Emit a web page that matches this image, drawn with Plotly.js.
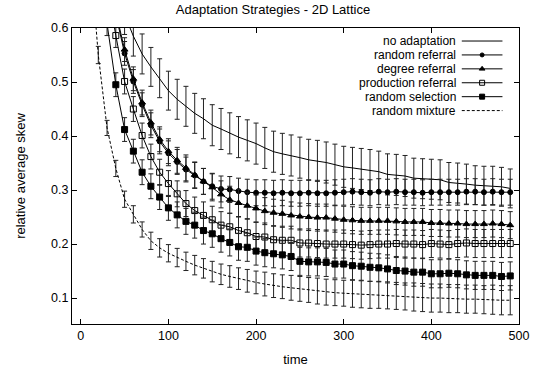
<!DOCTYPE html>
<html>
<head>
<meta charset="utf-8">
<script src="https://cdn.plot.ly/plotly-3.0.1.min.js"></script>
<style>html,body{margin:0;padding:0;background:#fff;}#chart{width:546px;height:368px;}</style>
</head>
<body>
<div id="chart"></div>
<script>
const time = [10,20,30,40,50,60,70,80,90,100,110,120,130,140,150,160,170,180,190,200,210,220,230,240,250,260,270,280,290,300,310,320,330,340,350,360,370,380,390,400,410,420,430,440,450,460,470,480,490];

const seriesNames = ["no adaptation","random referral","degree referral","production referral","random selection","random mixture"];

const noAdapt = [0.95,0.84,0.75,0.68,0.625,0.585,0.552,0.528,0.507,0.484,0.468,0.455,0.442,0.432,0.420,0.413,0.405,0.398,0.392,0.386,0.378,0.371,0.367,0.364,0.360,0.356,0.354,0.351,0.347,0.343,0.341,0.339,0.337,0.334,0.329,0.328,0.326,0.322,0.321,0.320,0.319,0.314,0.313,0.311,0.309,0.308,0.308,0.306,0.303];
const noAdaptErr = [0.035,0.036,0.036,0.037,0.037,0.037,0.037,0.036,0.036,0.036,0.037,0.037,0.037,0.037,0.038,0.038,0.038,0.038,0.038,0.038,0.038,0.038,0.038,0.038,0.038,0.038,0.038,0.038,0.038,0.038,0.038,0.038,0.038,0.038,0.038,0.038,0.038,0.037,0.037,0.037,0.037,0.037,0.037,0.037,0.036,0.036,0.036,0.036,0.036];

const randRef = [1.0,0.85,0.72,0.625,0.553,0.501,0.458,0.420,0.390,0.368,0.352,0.338,0.327,0.316,0.307,0.302,0.301,0.298,0.296,0.295,0.295,0.294,0.295,0.294,0.294,0.295,0.294,0.294,0.295,0.296,0.297,0.296,0.295,0.297,0.296,0.297,0.296,0.296,0.295,0.296,0.296,0.296,0.296,0.297,0.297,0.296,0.297,0.296,0.296];
const randRefErr = [0.022,0.022,0.022,0.022,0.022,0.022,0.022,0.023,0.023,0.023,0.023,0.023,0.024,0.024,0.024,0.024,0.024,0.024,0.024,0.024,0.024,0.024,0.024,0.024,0.024,0.024,0.024,0.024,0.024,0.024,0.024,0.024,0.024,0.024,0.024,0.024,0.024,0.024,0.024,0.024,0.024,0.024,0.024,0.024,0.024,0.024,0.024,0.024,0.024];

const degRef = [1.0,0.86,0.73,0.63,0.56,0.506,0.462,0.425,0.394,0.372,0.355,0.341,0.328,0.316,0.305,0.292,0.282,0.276,0.271,0.266,0.261,0.258,0.256,0.253,0.251,0.250,0.249,0.249,0.247,0.245,0.244,0.243,0.243,0.243,0.243,0.242,0.241,0.241,0.241,0.239,0.239,0.238,0.238,0.237,0.237,0.237,0.238,0.237,0.235];
const degRefErr = [0.022,0.022,0.022,0.022,0.022,0.022,0.023,0.023,0.023,0.023,0.024,0.024,0.024,0.024,0.025,0.025,0.025,0.025,0.025,0.025,0.025,0.025,0.025,0.025,0.025,0.025,0.025,0.025,0.025,0.025,0.025,0.025,0.025,0.025,0.025,0.025,0.025,0.025,0.025,0.025,0.025,0.025,0.025,0.025,0.025,0.025,0.025,0.025,0.025];

const prodRef = [0.95,0.80,0.68,0.586,0.501,0.450,0.401,0.362,0.333,0.312,0.293,0.275,0.262,0.253,0.245,0.235,0.232,0.225,0.221,0.214,0.213,0.208,0.207,0.207,0.202,0.202,0.201,0.200,0.200,0.200,0.199,0.198,0.199,0.200,0.200,0.201,0.200,0.200,0.199,0.201,0.200,0.199,0.201,0.202,0.201,0.201,0.201,0.201,0.201];
const prodRefErr = [0.022,0.022,0.022,0.022,0.023,0.023,0.023,0.023,0.024,0.024,0.024,0.024,0.025,0.025,0.025,0.025,0.025,0.025,0.026,0.026,0.026,0.026,0.026,0.026,0.026,0.026,0.026,0.026,0.026,0.026,0.026,0.026,0.026,0.026,0.026,0.026,0.026,0.026,0.026,0.026,0.026,0.026,0.026,0.026,0.026,0.026,0.026,0.026,0.026];

const randSel = [0.85,0.70,0.608,0.495,0.412,0.372,0.333,0.307,0.287,0.267,0.254,0.242,0.235,0.225,0.219,0.210,0.203,0.195,0.194,0.187,0.184,0.182,0.180,0.177,0.168,0.167,0.167,0.166,0.163,0.163,0.160,0.159,0.157,0.156,0.154,0.151,0.150,0.148,0.148,0.145,0.145,0.146,0.145,0.143,0.142,0.142,0.142,0.140,0.141];
const randSelErr = [0.022,0.022,0.022,0.022,0.022,0.022,0.023,0.023,0.023,0.023,0.024,0.024,0.024,0.025,0.025,0.025,0.025,0.025,0.026,0.026,0.026,0.026,0.026,0.026,0.026,0.026,0.026,0.026,0.026,0.026,0.026,0.026,0.026,0.026,0.026,0.026,0.026,0.026,0.026,0.026,0.026,0.026,0.026,0.026,0.026,0.026,0.026,0.026,0.026];

const randMix = [0.75,0.55,0.415,0.340,0.283,0.255,0.227,0.206,0.193,0.183,0.175,0.168,0.161,0.155,0.149,0.144,0.140,0.136,0.132,0.129,0.126,0.123,0.121,0.119,0.117,0.115,0.113,0.111,0.110,0.109,0.108,0.107,0.106,0.106,0.105,0.104,0.103,0.102,0.101,0.100,0.100,0.099,0.099,0.098,0.098,0.097,0.097,0.096,0.096];
const randMixErr = [0.016,0.016,0.014,0.015,0.015,0.016,0.014,0.016,0.017,0.016,0.017,0.017,0.018,0.018,0.019,0.019,0.020,0.020,0.021,0.021,0.022,0.022,0.022,0.023,0.023,0.023,0.024,0.024,0.024,0.024,0.025,0.025,0.025,0.025,0.025,0.025,0.025,0.026,0.026,0.026,0.026,0.026,0.026,0.026,0.026,0.026,0.027,0.027,0.027];

const FONT = "Liberation Sans, Arial, Helvetica, sans-serif";
const BLACK = "#000";

function errSpec(arr){
  return {type:'data', array:arr, visible:true, color:'#222', thickness:1, width:2.5};
}

const specs = [
  {y:noAdapt, e:noAdaptErr, mode:'lines', dash:'solid', sym:null},
  {y:randRef, e:randRefErr, mode:'lines+markers', dash:'solid', sym:'circle', size:5},
  {y:degRef, e:degRefErr, mode:'lines+markers', dash:'solid', sym:'triangle-up', size:6},
  {y:prodRef, e:prodRefErr, mode:'lines+markers', dash:'solid', sym:'square-open', size:6},
  {y:randSel, e:randSelErr, mode:'lines+markers', dash:'solid', sym:'square', size:6},
  {y:randMix, e:randMixErr, mode:'lines', dash:'3px,2px', sym:null}
];

const traces = specs.map((s,i)=>{
  const t = {
    type:'scatter', x:time, y:s.y, name:seriesNames[i], mode:s.mode,
    line:{color:BLACK, width:1, dash:s.dash},
    error_y:errSpec(s.e), showlegend:false, cliponaxis:true
  };
  if (s.sym) t.marker = {symbol:s.sym, size:s.size, color:BLACK, line:{color:BLACK, width:1}};
  return t;
});

// custom gnuplot-style key (text right-aligned, sample to the right)
const keyY = [0.956,0.909,0.862,0.815,0.768,0.721];
const keyTextX = 0.862, keyL = 0.872, keyR = 0.963, keyM = 0.9175;
const annotations = seriesNames.map((n,i)=>({
  xref:'paper', yref:'paper', x:keyTextX, y:keyY[i], xanchor:'right', yanchor:'middle',
  text:n, showarrow:false, borderpad:0, font:{family:FONT, size:12, color:BLACK}
}));
const shapes = specs.map((s,i)=>({
  type:'line', xref:'paper', yref:'paper', x0:keyL, x1:keyR, y0:keyY[i], y1:keyY[i],
  line:{color:BLACK, width:1, dash: s.dash}
}));
specs.forEach((s,i)=>{
  if (s.sym) traces.push({
    type:'scatter', xaxis:'x2', yaxis:'y2', x:[keyM], y:[keyY[i]], mode:'markers',
    marker:{symbol:s.sym, size:s.size-1, color:BLACK, line:{color:BLACK, width:1}},
    showlegend:false, hoverinfo:'skip'
  });
});

const axisCommon = {
  showgrid:false, zeroline:false, showline:true, linecolor:BLACK, linewidth:1,
  mirror:'ticks', ticks:'inside', ticklen:5, tickcolor:BLACK, tickwidth:1,
  tickfont:{family:FONT, size:12.5, color:BLACK}
};

const layout = {
  width:546, height:368,
  margin:{l:72, r:27, t:28, b:44},
  paper_bgcolor:'#fff', plot_bgcolor:'#fff',
  showlegend:false,
  title:{text:'Adaptation Strategies - 2D Lattice', font:{family:FONT, size:13, color:BLACK}, x:0.5, xanchor:'center', y:0.975, yanchor:'middle'},
  xaxis:Object.assign({}, axisCommon, {range:[-10,500], tickvals:[0,100,200,300,400,500],
    title:{text:'time', font:{family:FONT, size:13, color:BLACK}, standoff:12}}),
  yaxis:Object.assign({}, axisCommon, {range:[0.052,0.6], tickvals:[0.1,0.2,0.3,0.4,0.5,0.6], tickformat:'.1f',
    title:{text:'relative average skew', font:{family:FONT, size:13, color:BLACK}, standoff:22}}),
  xaxis2:{overlaying:'x', range:[0,1], visible:false, fixedrange:true},
  yaxis2:{overlaying:'y', range:[0,1], visible:false, fixedrange:true},
  annotations:annotations, shapes:shapes
};

Plotly.newPlot('chart', traces, layout, {displayModeBar:false, staticPlot:true});
</script>
</body>
</html>
